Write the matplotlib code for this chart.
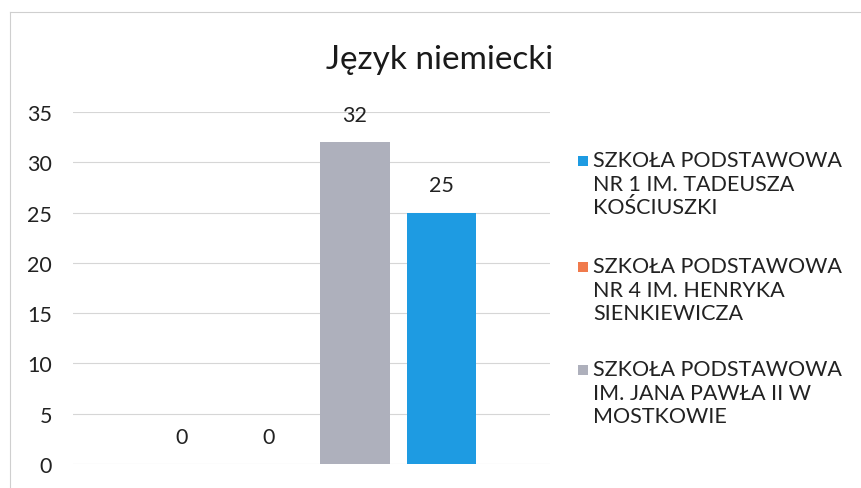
import matplotlib
matplotlib.use("Agg")
import matplotlib.pyplot as plt
from matplotlib.patches import Rectangle
from matplotlib.lines import Line2D

title = "Język niemiecki"
schools = [
    "SZKOŁA PODSTAWOWA\nNR 1 IM. TADEUSZA\nKOŚCIUSZKI",
    "SZKOŁA PODSTAWOWA\nNR 4 IM. HENRYKA\nSIENKIEWICZA",
    "SZKOŁA PODSTAWOWA\nIM. JANA PAWŁA II W\nMOSTKOWIE",
]
school_colors = ["#1E9BE2", "#F07A4C", "#AEB0BC"]
bar_values = [0, 0, 32, 25]
bar_school = [1, 0, 2, 0]
y_ticks = [0, 5, 10, 15, 20, 25, 30, 35]

plt.rcParams['font.family'] = ['Lato', 'DejaVu Sans']

fig = plt.figure(figsize=(8.62, 4.89), dpi=100)
W, H = 862, 489
ax = fig.add_axes([73 / W, 1 - 465 / H, (550 - 73) / W, (465 - 113) / H])

xs = list(range(len(bar_values)))
cols = [school_colors[s] for s in bar_school]
ax.bar(xs, bar_values, width=0.8, color=cols, zorder=3)
for x, v in zip(xs, bar_values):
    ax.annotate(f"{v}", (x, v), xytext=(0, 19.5), textcoords="offset points",
                ha="center", va="center", fontsize=15.5, color="#222222")

ax.set_xlim(-1.25, 4.25)
ax.set_ylim(0, 35)
ax.set_yticks(y_ticks)
ax.set_yticklabels([str(t) for t in y_ticks], fontsize=15.5, color="#222222")
ax.set_xticks([])
ax.tick_params(axis="y", length=0, pad=15)
ax.grid(axis="y", color="#d6d6d6", linewidth=0.8, zorder=0)
for s in ax.spines.values():
    s.set_visible(False)

fig.text(440 / W, 1 - 60 / H, title, ha="center", va="center",
         fontsize=24, color="#1a1a1a")

# legend (handle aligned with first text line, as in the reference)
leg_first_y = [162, 268, 371]
for name, c, y0 in zip(schools, school_colors, leg_first_y):
    fig.patches.append(Rectangle((578 / W, 1 - (y0 + 5) / H), 10 / W, 10 / H,
                                 transform=fig.transFigure, facecolor=c,
                                 edgecolor="none"))
    fig.text(593 / W, 1 - (y0 - 11) / H, name, ha="left", va="top",
             fontsize=15.5, linespacing=1.22, color="#222222")

# outer chart border (top and left visible)
fig.add_artist(Line2D([10 / W, 1], [1 - 13 / H, 1 - 13 / H], color="#cfcfcf",
                      linewidth=0.8, transform=fig.transFigure))
fig.add_artist(Line2D([10 / W, 10 / W], [0, 1 - 13 / H], color="#cfcfcf",
                      linewidth=0.8, transform=fig.transFigure))

fig.savefig("out.png", dpi=100)
